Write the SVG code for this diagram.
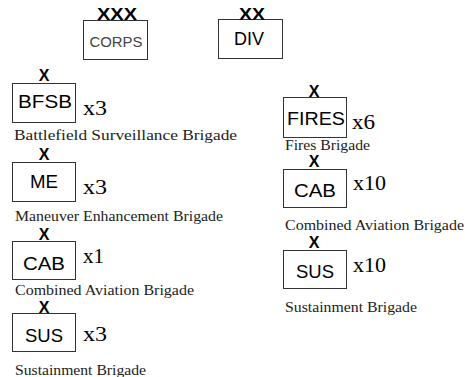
<svg xmlns="http://www.w3.org/2000/svg" width="465" height="377" viewBox="0 0 465 377">
<style>
.box{fill:#fff;stroke:#333;stroke-width:1}
.ech{font-family:"Liberation Sans",Arial,sans-serif;font-weight:bold;font-size:16px;fill:#000;text-anchor:middle}
.unit{font-family:"Liberation Sans",Arial,sans-serif;font-size:19px;fill:#000;text-anchor:middle}
.cnt{font-family:"Liberation Serif","Times New Roman",serif;font-size:20px;fill:#000}
.lbl{font-family:"Liberation Serif","Times New Roman",serif;font-size:14px;fill:#222}
</style>
<rect width="465" height="377" fill="#fff"/>
<g id="corps">
<rect class="box" x="83.5" y="20.5" width="64" height="39"/>
<text class="ech" x="117" y="20" style="font-size:17px" textLength="40" lengthAdjust="spacingAndGlyphs">XXX</text>
<text class="unit" x="116" y="47" style="font-size:14.5px;fill:#444" textLength="53" lengthAdjust="spacingAndGlyphs">CORPS</text>
</g>
<g id="div">
<rect class="box" x="218.5" y="19.5" width="64" height="39"/>
<text class="ech" x="252" y="20" style="font-size:17px" textLength="26" lengthAdjust="spacingAndGlyphs">XX</text>
<text class="unit" x="249" y="45" textLength="30" lengthAdjust="spacingAndGlyphs">DIV</text>
</g>
<g id="bfsb">
<rect class="box" x="12.5" y="83.5" width="63" height="39"/>
<text class="ech" x="44" y="81">X</text>
<text class="unit" x="45" y="108" textLength="54" lengthAdjust="spacingAndGlyphs">BFSB</text>
<text class="cnt" x="83" y="115" textLength="24" lengthAdjust="spacingAndGlyphs">x3</text>
<text class="lbl" x="14" y="140" textLength="223" lengthAdjust="spacingAndGlyphs">Battlefield Surveillance Brigade</text>
</g>
<g id="me">
<rect class="box" x="12.5" y="162.5" width="63" height="39"/>
<text class="ech" x="44" y="160">X</text>
<text class="unit" x="44" y="188" textLength="28" lengthAdjust="spacingAndGlyphs">ME</text>
<text class="cnt" x="83" y="194" textLength="24" lengthAdjust="spacingAndGlyphs">x3</text>
<text class="lbl" x="15" y="221" textLength="208" lengthAdjust="spacingAndGlyphs">Maneuver Enhancement Brigade</text>
</g>
<g id="cab-left">
<rect class="box" x="12.5" y="241.5" width="63" height="38"/>
<text class="ech" x="44" y="240">X</text>
<text class="unit" x="44" y="270" textLength="42" lengthAdjust="spacingAndGlyphs">CAB</text>
<text class="cnt" x="83" y="263" textLength="21" lengthAdjust="spacingAndGlyphs">x1</text>
<text class="lbl" x="15" y="295" textLength="179" lengthAdjust="spacingAndGlyphs">Combined Aviation Brigade</text>
</g>
<g id="sus-left">
<rect class="box" x="12.5" y="313.5" width="63" height="38"/>
<text class="ech" x="44" y="313">X</text>
<text class="unit" x="44" y="342" textLength="38" lengthAdjust="spacingAndGlyphs">SUS</text>
<text class="cnt" x="83" y="341" textLength="24" lengthAdjust="spacingAndGlyphs">x3</text>
<text class="lbl" x="15" y="375" textLength="131" lengthAdjust="spacingAndGlyphs">Sustainment Brigade</text>
</g>
<g id="fires">
<rect class="box" x="283.5" y="97.5" width="63" height="40"/>
<text class="ech" x="314" y="97">X</text>
<text class="unit" x="316" y="125" textLength="58" lengthAdjust="spacingAndGlyphs">FIRES</text>
<text class="cnt" x="352" y="129" textLength="23" lengthAdjust="spacingAndGlyphs">x6</text>
<text class="lbl" x="285" y="150" textLength="85" lengthAdjust="spacingAndGlyphs">Fires Brigade</text>
</g>
<g id="cab-right">
<rect class="box" x="283.5" y="169.5" width="63" height="38"/>
<text class="ech" x="314" y="167">X</text>
<text class="unit" x="315" y="197" textLength="42" lengthAdjust="spacingAndGlyphs">CAB</text>
<text class="cnt" x="353" y="190" textLength="33" lengthAdjust="spacingAndGlyphs">x10</text>
<text class="lbl" x="285" y="230" textLength="179" lengthAdjust="spacingAndGlyphs">Combined Aviation Brigade</text>
</g>
<g id="sus-right">
<rect class="box" x="283.5" y="250.5" width="63" height="38"/>
<text class="ech" x="314" y="248">X</text>
<text class="unit" x="315" y="278" textLength="38" lengthAdjust="spacingAndGlyphs">SUS</text>
<text class="cnt" x="353" y="272" textLength="33" lengthAdjust="spacingAndGlyphs">x10</text>
<text class="lbl" x="285" y="312" textLength="132" lengthAdjust="spacingAndGlyphs">Sustainment Brigade</text>
</g>
<g id="connectors"></g>
</svg>
